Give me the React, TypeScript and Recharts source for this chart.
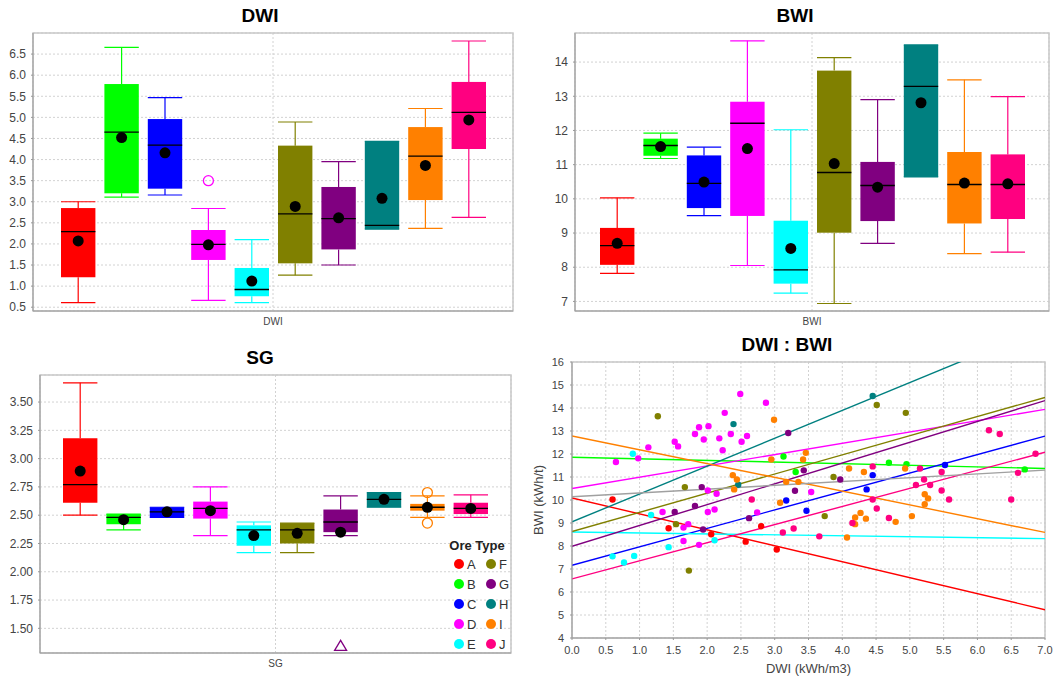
import React from 'react';
import {
  BarChart, Bar, XAxis, YAxis, CartesianGrid, ReferenceArea, Legend,
  ScatterChart, Scatter, ReferenceLine,
} from 'recharts';

const FONT = '"Liberation Sans", Arial, Helvetica, sans-serif';

const ORES = ['A', 'B', 'C', 'D', 'E', 'F', 'G', 'H', 'I', 'J'];
const COLORS = ['#ff0000', '#00ff00', '#0000ff', '#ff00ff', '#00ffff', '#808000', '#800080', '#008080', '#ff8000', '#ff0080'];

// DWI box plot
const dwiMin = [0.61, 3.11, 3.16, 0.66, 0.61, 1.26, 1.50, 2.35, 2.37, 2.63];
const dwiQ1 = [1.21, 3.20, 3.31, 1.62, 0.76, 1.54, 1.87, 2.35, 3.04, 4.25];
const dwiMed = [2.29, 4.65, 4.34, 1.99, 0.92, 2.71, 2.60, 2.44, 4.08, 5.12];
const dwiQ3 = [2.85, 5.79, 4.96, 2.33, 1.43, 4.33, 3.35, 4.43, 4.77, 5.84];
const dwiMax = [3.00, 6.66, 5.47, 2.84, 2.10, 4.89, 3.95, 4.43, 5.21, 6.81];
const dwiMean = [2.07, 4.52, 4.16, 1.98, 1.12, 2.89, 2.62, 3.08, 3.86, 4.94];
const dwiOut = [[], [], [], [3.50], [], [], [], [], [], []];
const dwiTicks = [0.5, 1, 1.5, 2, 2.5, 3, 3.5, 4, 4.5, 5, 5.5, 6, 6.5];

// BWI box plot
const bwiMin = [7.82, 11.18, 9.51, 8.05, 7.24, 6.94, 8.70, 10.64, 8.40, 8.44];
const bwiQ1 = [8.07, 11.26, 9.73, 9.50, 7.52, 9.01, 9.35, 10.64, 9.28, 9.41];
const bwiMed = [8.63, 11.56, 10.45, 12.21, 7.92, 10.77, 10.39, 13.29, 10.42, 10.42];
const bwiQ3 = [9.15, 11.76, 11.27, 12.84, 9.36, 13.75, 11.08, 14.50, 11.37, 11.30];
const bwiMax = [10.03, 11.92, 11.51, 14.62, 12.02, 14.13, 12.90, 14.50, 13.48, 12.99];
const bwiMean = [8.70, 11.53, 10.49, 11.47, 8.55, 11.03, 10.34, 12.81, 10.46, 10.44];
const bwiTicks = [7, 8, 9, 10, 11, 12, 13, 14];

// SG box plot
const sgMin = [2.50, 2.37, 2.48, 2.32, 2.17, 2.17, 2.32, 2.57, 2.48, 2.48];
const sgQ1 = [2.61, 2.42, 2.48, 2.47, 2.23, 2.25, 2.35, 2.57, 2.54, 2.51];
const sgMed = [2.77, 2.48, 2.53, 2.56, 2.37, 2.37, 2.44, 2.64, 2.57, 2.56];
const sgQ3 = [3.18, 2.51, 2.57, 2.62, 2.41, 2.43, 2.55, 2.70, 2.60, 2.61];
const sgMax = [3.67, 2.51, 2.57, 2.75, 2.44, 2.43, 2.67, 2.70, 2.67, 2.68];
const sgMean = [2.89, 2.46, 2.53, 2.54, 2.32, 2.34, 2.35, 2.64, 2.57, 2.56];
const sgOut = [[], [], [], [], [], [], [], [], [2.70, 2.43], []];
const sgFar = [[], [], [], [], [], [], [1.35], [], [], []];
const sgTicks = [1.5, 1.75, 2, 2.25, 2.5, 2.75, 3, 3.25, 3.5];

// DWI : BWI scatter, [DWI, BWI]
const ptsA = [[0.60, 10.02], [1.43, 8.77], [2.06, 8.51], [2.57, 8.19], [2.80, 8.86], [3.03, 7.85]];
const ptsB = [[3.13, 11.89], [3.31, 11.22], [4.69, 11.62], [4.95, 11.56], [6.70, 11.33]];
const ptsC = [[3.17, 9.98], [3.47, 9.53], [4.36, 10.46], [4.45, 11.08], [5.52, 11.52]];
const ptsD = [[0.65, 11.65], [0.98, 11.81], [1.13, 12.29], [1.34, 9.48], [1.52, 12.53], [1.57, 12.33], [1.65, 8.80],
  [1.65, 8.22], [1.72, 8.95], [1.82, 12.87], [1.88, 13.16], [1.88, 8.05], [1.95, 12.63], [2.01, 10.41], [2.01, 9.48],
  [2.02, 13.21], [2.11, 9.59], [2.14, 10.27], [2.18, 12.68], [2.23, 12.16], [2.26, 13.79], [2.35, 12.87], [2.49, 14.61],
  [2.51, 12.53], [2.59, 12.78], [2.74, 9.46], [2.87, 14.23], [3.54, 10.35]];
const ptsE = [[0.60, 7.55], [0.77, 7.28], [0.90, 12.01], [0.92, 7.57], [1.17, 9.35], [1.43, 7.95], [2.11, 8.25]];
const ptsF = [[1.27, 13.64], [1.54, 8.95], [1.67, 10.56], [1.73, 6.93], [3.74, 9.30], [3.87, 11.00], [4.51, 14.13], [4.94, 13.79]];
const ptsG = [[1.52, 9.48], [1.82, 9.74], [1.92, 10.56], [1.94, 8.72], [2.62, 9.21], [3.20, 12.91], [3.30, 10.40], [3.43, 11.29], [3.97, 10.89]];
const ptsH = [[2.39, 13.30], [2.46, 10.66], [4.45, 14.52]];
const ptsI = [[2.38, 11.08], [2.40, 10.46], [2.44, 10.89], [2.95, 11.76], [2.99, 13.49], [3.08, 9.88], [3.17, 10.79],
  [3.35, 10.79], [3.42, 11.76], [3.46, 12.05], [4.07, 8.37], [4.10, 11.37], [4.19, 9.24], [4.19, 8.95], [4.27, 9.44],
  [4.32, 11.22], [4.35, 9.19], [4.79, 9.05], [4.93, 11.37], [5.03, 9.30], [5.22, 10.25], [5.22, 9.82], [5.27, 10.07]];
const ptsJ = [[2.66, 10.02], [3.12, 8.59], [3.28, 8.76], [3.66, 8.42], [4.15, 9.00], [4.45, 11.46], [4.45, 10.02],
  [4.51, 9.63], [4.69, 9.22], [5.09, 10.65], [5.15, 11.37], [5.21, 10.89], [5.30, 10.65], [5.47, 11.22], [5.47, 10.41],
  [5.58, 10.02], [6.17, 13.03], [6.33, 12.87], [6.50, 10.02], [6.60, 11.18], [6.86, 12.01]];
const scatterPts = [ptsA, ptsB, ptsC, ptsD, ptsE, ptsF, ptsG, ptsH, ptsI, ptsJ];

// fitted lines: BWI at DWI = 0 and DWI = 7 (A..J, then all)
const regAt0 = [10.09, 11.86, 7.16, 10.50, 8.61, 8.63, 7.99, 9.05, 12.78, 6.57, 10.14];
const regAt7 = [5.23, 11.37, 12.78, 13.94, 8.32, 14.46, 14.32, 17.53, 8.59, 12.08, 11.30];
const REG_COLORS = [...COLORS, '#a0a0a0'];
const xTicks = [0, 0.5, 1, 1.5, 2, 2.5, 3, 3.5, 4, 4.5, 5, 5.5, 6, 6.5, 7];
const yTicks = [4, 5, 6, 7, 8, 9, 10, 11, 12, 13, 14, 15, 16];

const GRID = '#d2d2d2';
const AXIS = '#999999';
const TICK = { fontSize: 12, fill: '#444' };

type BoxStats = {
  min: number[]; q1: number[]; med: number[]; q3: number[]; max: number[]; mean: number[];
  out?: number[][]; far?: number[][];
};

const makeBox = (s: BoxStats, i: number) => (p: any) => {
  const { x, y, width, height } = p;
  if (x == null || y == null || height == null) return <g />;
  const lo = s.min[i];
  const hi = s.max[i];
  const top = Math.min(y, y + height);
  const bot = Math.max(y, y + height);
  // linear map from the bar's own min..max pixels
  const py = (v: number) => bot - ((v - lo) / (hi - lo)) * (bot - top);
  const cx = x + width / 2;
  const c = COLORS[i];
  const yq1 = py(s.q1[i]);
  const yq3 = py(s.q3[i]);
  const ym = py(s.med[i]);
  return (
    <g>
      <line x1={cx} x2={cx} y1={top} y2={yq3} stroke={c} strokeWidth={1.2} />
      <line x1={cx} x2={cx} y1={yq1} y2={bot} stroke={c} strokeWidth={1.2} />
      <line x1={x} x2={x + width} y1={top} y2={top} stroke={c} strokeWidth={1.2} />
      <line x1={x} x2={x + width} y1={bot} y2={bot} stroke={c} strokeWidth={1.2} />
      <rect x={x} y={yq3} width={width} height={Math.max(yq1 - yq3, 0)} fill={c} />
      <line x1={x} x2={x + width} y1={ym} y2={ym} stroke="#000" strokeWidth={1.3} />
      <circle cx={cx} cy={py(s.mean[i])} r={5.5} fill="#000" />
      {(s.out?.[i] || []).map((v, k) => (
        <circle key={k} cx={cx} cy={py(v)} r={5} fill="none" stroke={c} strokeWidth={1.3} />
      ))}
      {(s.far?.[i] || []).map((v, k) => {
        const ty = py(v);
        return <polygon key={k} points={`${cx},${ty - 5} ${cx - 6},${ty + 5} ${cx + 6},${ty + 5}`} fill="none" stroke={c} strokeWidth={1.3} />;
      })}
    </g>
  );
};

const OreLegend = () => (
  <div style={{ fontFamily: FONT, width: 66 }}>
    <div style={{ marginLeft: -5, width: 56, fontWeight: 'bold', fontSize: 13, lineHeight: '16px', textAlign: 'center', color: '#222', whiteSpace: 'nowrap' }}>
      Ore Type
    </div>
    <div style={{ display: 'grid', gridTemplateColumns: '32px 32px', gridTemplateRows: 'repeat(5, 20px)', gridAutoFlow: 'column' }}>
      {ORES.map((o, i) => (
        <div key={o} style={{ display: 'flex', alignItems: 'center', fontSize: 13, color: '#333' }}>
          <span style={{ display: 'inline-block', width: 10, height: 10, borderRadius: 5, background: COLORS[i], marginRight: 3 }} />
          {o}
        </div>
      ))}
    </div>
  </div>
);

function BoxPanel(props: {
  name: string; stats: BoxStats; domain: [number, number]; ticks: number[]; fmt: (v: number) => string;
  width: number; height: number; margin: any; yWidth: number; xHeight: number; legend?: boolean;
}) {
  const { name, stats, domain, ticks, fmt, width, height, margin, yWidth, xHeight, legend } = props;
  const row: any = { name };
  ORES.forEach((o, i) => { row[o] = [stats.min[i], stats.max[i]]; });
  return (
    <BarChart width={width} height={height} data={[row]} margin={margin} barSize={34.4} barGap={9}>
      <CartesianGrid stroke={GRID} strokeDasharray="2 2" />
      <ReferenceArea y1={domain[0]} y2={domain[1]} fill="none" stroke="#c8c8c8" strokeWidth={1.5} />
      <XAxis dataKey="name" height={xHeight} tickSize={0} tickMargin={7} tickLine={false}
        axisLine={{ stroke: AXIS }} tick={{ fontSize: 10, fill: '#444' }} />
      <YAxis type="number" domain={domain} ticks={ticks} allowDataOverflow interval={0} width={yWidth}
        tickFormatter={fmt} tick={TICK} tickSize={2} tickMargin={5}
        axisLine={{ stroke: AXIS }} tickLine={{ stroke: AXIS }} />
      {ORES.map((o, i) => (
        <Bar key={o} dataKey={o} isAnimationActive={false} shape={makeBox(stats, i)} />
      ))}
      {legend && (
        <Legend layout="horizontal" verticalAlign="middle" align="center" content={<OreLegend />}
          wrapperStyle={{ left: 454, top: 208, width: 70, height: 'auto' }} />
      )}
    </BarChart>
  );
}

const VLabel = (props: any) => {
  const vb = props.viewBox || { x: 0, y: 32, width: 42, height: 276 };
  const cx = vb.x + 8.5;
  const cy = vb.y + vb.height / 2;
  return (
    <text x={cx} y={cy} transform={`rotate(-90 ${cx} ${cy})`} textAnchor="middle" dominantBaseline="central"
      fontSize={13} fill="#444" fontFamily={FONT}>
      BWI (kWh/t)
    </text>
  );
};

const Title = ({ text, cx, cy }: { text: string; cx: number; cy: number }) => (
  <div style={{
    position: 'absolute', left: cx - 100, top: cy - 11, width: 200, textAlign: 'center',
    fontWeight: 'bold', fontSize: 19, lineHeight: '22px', color: '#000',
  }}>{text}</div>
);

const dwiStats: BoxStats = { min: dwiMin, q1: dwiQ1, med: dwiMed, q3: dwiQ3, max: dwiMax, mean: dwiMean, out: dwiOut };
const bwiStats: BoxStats = { min: bwiMin, q1: bwiQ1, med: bwiMed, q3: bwiQ3, max: bwiMax, mean: bwiMean };
const sgStats: BoxStats = { min: sgMin, q1: sgQ1, med: sgMed, q3: sgQ3, max: sgMax, mean: sgMean, out: sgOut, far: sgFar };

export default function App() {
  return (
    <div style={{ position: 'absolute', left: 0, top: 0, width: 1058, height: 679, background: '#fff', fontFamily: FONT, overflow: 'hidden' }}>
      <div style={{ position: 'absolute', left: 0, top: 0 }}>
        <BoxPanel name="DWI" stats={dwiStats} domain={[0.41, 7.0]} ticks={dwiTicks} fmt={(v) => v.toFixed(1)}
          width={530} height={330} margin={{ top: 33, right: 17, bottom: 0, left: 0 }} yWidth={33} xHeight={19} />
      </div>
      <div style={{ position: 'absolute', left: 530, top: 0 }}>
        <BoxPanel name="BWI" stats={bwiStats} domain={[6.72, 14.85]} ticks={bwiTicks} fmt={(v) => String(v)}
          width={528} height={330} margin={{ top: 33, right: 9, bottom: 0, left: 0 }} yWidth={45} xHeight={19} />
      </div>
      <div style={{ position: 'absolute', left: 0, top: 330 }}>
        <BoxPanel name="SG" stats={sgStats} domain={[1.282, 3.739]} ticks={sgTicks} fmt={(v) => v.toFixed(2)}
          width={530} height={349} margin={{ top: 45, right: 19, bottom: 0, left: 0 }} yWidth={40} xHeight={26} legend />
      </div>
      <div style={{ position: 'absolute', left: 530, top: 330 }}>
        <ScatterChart width={528} height={349} margin={{ top: 32, right: 13, bottom: 0, left: 0 }}>
          <CartesianGrid stroke={GRID} strokeDasharray="2 2" />
          <ReferenceArea x1={0} x2={7} y1={4} y2={16} fill="none" stroke="#c8c8c8" strokeWidth={1.5} />
          <XAxis type="number" dataKey="x" domain={[0, 7]} ticks={xTicks} allowDataOverflow interval={0} height={41}
            tickFormatter={(v) => v.toFixed(1)} tick={{ fontSize: 11, fill: '#444' }} tickSize={2} tickMargin={6}
            axisLine={{ stroke: AXIS }} tickLine={{ stroke: AXIS }}
            label={{ value: 'DWI (kWh/m3)', position: 'insideBottom', offset: 6, fontSize: 13, fill: '#444' }} />
          <YAxis type="number" dataKey="y" domain={[4, 16]} ticks={yTicks} allowDataOverflow interval={0} width={42}
            tick={{ fontSize: 11, fill: '#444' }} tickSize={2} tickMargin={6}
            axisLine={{ stroke: AXIS }} tickLine={{ stroke: AXIS }} label={<VLabel />} />
          {regAt0.map((y0, i) => (
            <ReferenceLine key={'r' + i} segment={[{ x: 0, y: y0 }, { x: 7, y: regAt7[i] }]}
              stroke={REG_COLORS[i]} strokeWidth={1.4} ifOverflow="hidden" />
          ))}
          {scatterPts.map((pts, i) => (
            <Scatter key={ORES[i]} name={ORES[i]} data={pts.map(([x, y]) => ({ x, y }))} isAnimationActive={false}
              shape={(p: any) => <circle cx={p.cx} cy={p.cy} r={3.2} fill={COLORS[i]} />} />
          ))}
        </ScatterChart>
      </div>
      <Title text="DWI" cx={260} cy={15.5} />
      <Title text="BWI" cx={795} cy={15.5} />
      <Title text="SG" cx={260} cy={358} />
      <Title text="DWI : BWI" cx={787} cy={344.5} />
    </div>
  );
}
